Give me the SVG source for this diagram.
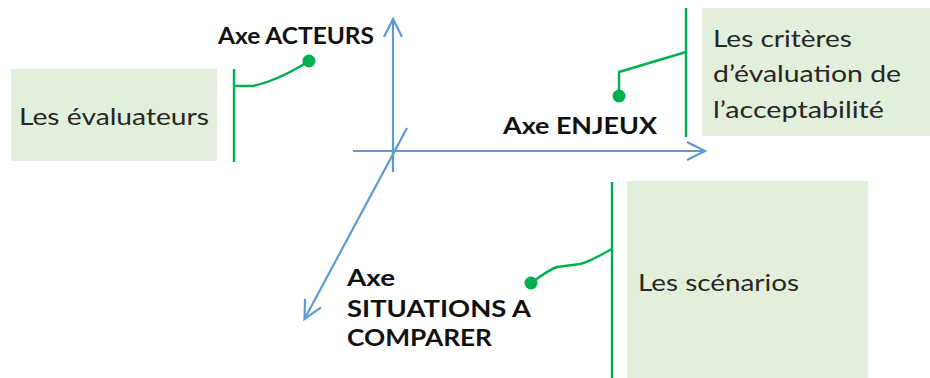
<svg xmlns="http://www.w3.org/2000/svg" width="930" height="378" viewBox="0 0 930 378">
  <defs>
    <style>
      .box { fill: #E2EFDA; }
      .txt { font-family: Lato, "Open Sans", "Liberation Sans", sans-serif; font-size: 24px; fill: #262626; }
      .lbl { font-family: Lato, "Liberation Sans", sans-serif; font-size: 23px; font-weight: bold; fill: #111; }
      .axis { stroke: #5B9BD5; stroke-width: 2.2; fill: none; marker-end: url(#chev); }
      .lead { stroke: #00B050; stroke-width: 2.4; fill: none; stroke-linejoin: round; }
      .dot { fill: #00B050; }
    </style>
    <marker id="chev" markerUnits="userSpaceOnUse" markerWidth="24" markerHeight="24" viewBox="-20 -12 24 24" refX="0" refY="0" orient="auto">
      <path d="M-18,-9 L0,0 L-18,9" fill="none" stroke="#5B9BD5" stroke-width="2.2"/>
    </marker>
  </defs>

  <g id="connectors">
    <line class="axis" x1="393" y1="172" x2="393" y2="19"/>
    <line class="axis" x1="353" y1="151" x2="705" y2="151"/>
    <line class="axis" x1="407" y1="128" x2="304.5" y2="319"/>
    <line class="lead" x1="234" y1="69" x2="234" y2="162"/>
    <path class="lead" d="M234,86 L252,86 C268,83 290,73 309,61"/>
    <line class="lead" x1="686" y1="8" x2="686" y2="137"/>
    <path class="lead" d="M686,52 L619,72 L619,96"/>
    <line class="lead" x1="612" y1="182" x2="612" y2="378"/>
    <path class="lead" d="M612,249 C600,255 590,262 580,264 L557,267 C548,270 540,277 531,283"/>
    <circle class="dot" cx="309" cy="61" r="6.5"/>
    <circle class="dot" cx="619" cy="96" r="6.5"/>
    <circle class="dot" cx="531" cy="283" r="6.5"/>
  </g>

  <g id="node-evaluateurs">
    <rect class="box" x="11" y="69" width="206" height="92"/>
    <text class="txt" x="19" y="125" textLength="190" lengthAdjust="spacingAndGlyphs">Les évaluateurs</text>
  </g>

  <g id="node-criteres">
    <rect class="box" x="702" y="8" width="228" height="128"/>
    <text class="txt" x="713" y="47" textLength="139" lengthAdjust="spacingAndGlyphs">Les critères</text>
    <text class="txt" x="713" y="82" textLength="188" lengthAdjust="spacingAndGlyphs">d’évaluation de</text>
    <text class="txt" x="713" y="118" textLength="171" lengthAdjust="spacingAndGlyphs">l’acceptabilité</text>
  </g>

  <g id="node-scenarios">
    <rect class="box" x="627" y="181" width="241" height="197"/>
    <text class="txt" x="638" y="291" textLength="161" lengthAdjust="spacingAndGlyphs">Les scénarios</text>
  </g>

  <g id="label-acteurs">
    <text class="lbl" x="218" y="44" textLength="156" lengthAdjust="spacingAndGlyphs">Axe ACTEURS</text>
  </g>

  <g id="label-enjeux">
    <text class="lbl" x="503" y="134" textLength="154" lengthAdjust="spacingAndGlyphs">Axe ENJEUX</text>
  </g>

  <g id="label-situations">
    <text class="lbl" x="347" y="286" textLength="48" lengthAdjust="spacingAndGlyphs">Axe</text>
    <text class="lbl" x="347" y="317" textLength="184" lengthAdjust="spacingAndGlyphs">SITUATIONS A</text>
    <text class="lbl" x="347" y="346" textLength="145" lengthAdjust="spacingAndGlyphs">COMPARER</text>
  </g>
</svg>
